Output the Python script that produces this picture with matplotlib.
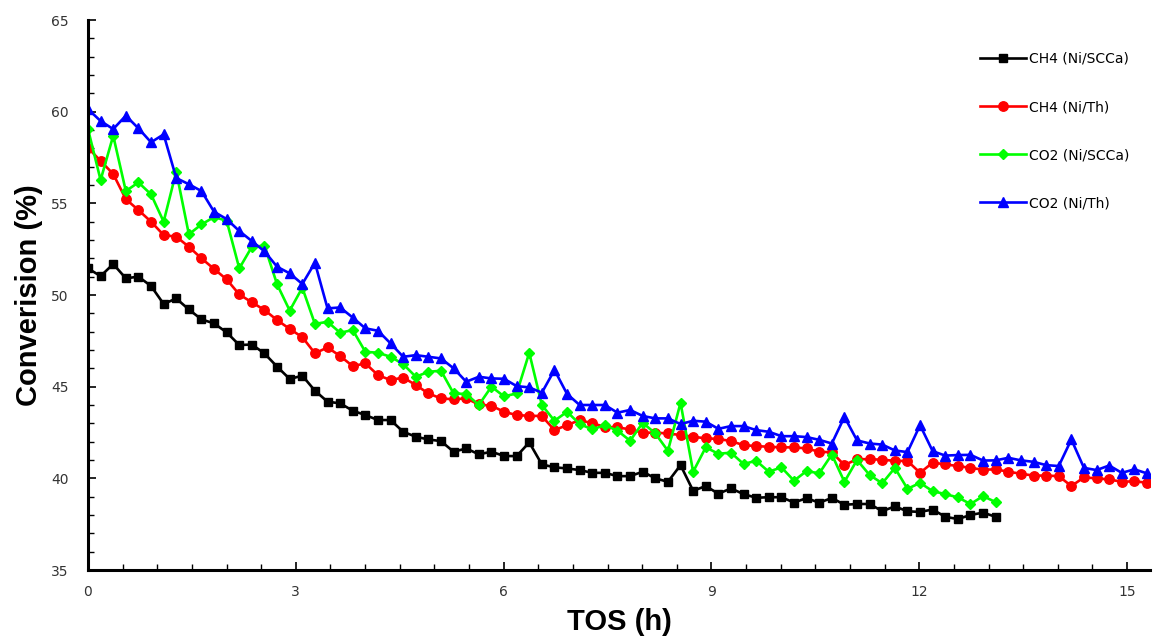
import matplotlib
matplotlib.use("Agg")
import matplotlib.pyplot as plt
from matplotlib.ticker import MultipleLocator

# ---- data ----
dt_h = 0.182
tos_long = [round(i * dt_h, 3) for i in range(85)]
tos_short = tos_long[:73]

ch4_scca = [51.45, 51.03, 51.69, 50.91, 51.0, 50.49, 49.51, 49.81, 49.21, 48.67,
            48.45, 47.96, 47.27, 47.3, 46.81, 46.09, 45.42, 45.6, 44.78, 44.18,
            44.09, 43.69, 43.45, 43.18, 43.18, 42.54, 42.27, 42.12, 42.03, 41.45,
            41.63, 41.31, 41.45, 41.22, 41.21, 41.96, 40.76, 40.6, 40.54, 40.45,
            40.3, 40.3, 40.12, 40.12, 40.36, 40.0, 39.81, 40.72, 39.32, 39.58,
            39.16, 39.45, 39.14, 38.94, 38.97, 38.97, 38.68, 38.92, 38.67, 38.93,
            38.56, 38.6, 38.6, 38.21, 38.47, 38.2, 38.17, 38.3, 37.9, 37.78,
            38.0, 38.13, 37.9]

ch4_th = [58.03, 57.31, 56.6, 55.23, 54.63, 54.0, 53.27, 53.18, 52.63, 52.0,
          51.42, 50.85, 50.03, 49.6, 49.18, 48.63, 48.15, 47.7, 46.82, 47.14,
          46.67, 46.12, 46.27, 45.63, 45.36, 45.5, 45.09, 44.63, 44.36, 44.31,
          44.36, 44.03, 43.96, 43.63, 43.45, 43.41, 43.4, 42.63, 42.9, 43.18,
          43.0, 42.81, 42.78, 42.67, 42.49, 42.49, 42.45, 42.36, 42.27, 42.18,
          42.15, 42.03, 41.81, 41.76, 41.72, 41.69, 41.69, 41.63, 41.45, 41.42,
          40.72, 41.05, 41.04, 41.02, 40.95, 40.95, 40.3, 40.86, 40.76, 40.67,
          40.57, 40.47, 40.49, 40.36, 40.25, 40.15, 40.15, 40.12, 39.58, 40.05,
          40.0, 39.94, 39.81, 39.84, 39.76]

co2_scca = [59.05, 56.27, 58.69, 55.67, 56.14, 55.49, 54.0, 56.73, 53.31, 53.85,
            54.25, 54.05, 51.45, 52.63, 52.69, 50.58, 49.15, 50.4, 48.42, 48.54,
            47.94, 48.09, 46.9, 46.85, 46.63, 46.23, 45.54, 45.81, 45.87, 44.63,
            44.6, 44.0, 45.0, 44.47, 44.63, 46.85, 44.0, 43.14, 43.63, 42.96,
            42.67, 42.9, 42.6, 42.05, 43.03, 42.45, 41.5, 44.12, 40.36, 41.69,
            41.34, 41.4, 40.78, 40.96, 40.36, 40.6, 39.87, 40.4, 40.27, 41.3,
            39.81, 41.0, 40.18, 39.73, 40.57, 39.43, 39.75, 39.3, 39.14, 38.96,
            38.6, 39.03, 38.7]

co2_th = [60.14, 59.49, 59.05, 59.78, 59.09, 58.33, 58.76, 56.38, 56.04, 55.67,
          54.54, 54.14, 53.49, 52.94, 52.38, 51.54, 51.18, 50.6, 51.76, 49.27,
          49.32, 48.77, 48.18, 48.05, 47.36, 46.63, 46.72, 46.63, 46.54, 46.0,
          45.27, 45.54, 45.45, 45.43, 45.03, 44.96, 44.67, 45.91, 44.6, 44.0,
          44.0, 44.0, 43.58, 43.73, 43.4, 43.27, 43.27, 42.96, 43.14, 43.09,
          42.7, 42.85, 42.85, 42.63, 42.54, 42.3, 42.3, 42.25, 42.1, 41.9,
          43.35, 42.07, 41.9, 41.84, 41.52, 41.43, 42.9, 41.48, 41.24, 41.27,
          41.28, 40.97, 40.98, 41.12, 40.98, 40.9, 40.72, 40.67, 42.12, 40.57,
          40.45, 40.7, 40.3, 40.49, 40.27]

labels = ["CH4 (Ni/SCCa)", "CH4 (Ni/Th)", "CO2 (Ni/SCCa)", "CO2 (Ni/Th)"]
x_ticks = [0, 3, 6, 9, 12, 15]
y_ticks = [35, 40, 45, 50, 55, 60, 65]

# ---- figure ----
W, H = 1153, 641
fig = plt.figure(figsize=(W / 100, H / 100), dpi=100)
ax = fig.add_axes([88 / W, 1 - 570 / H, (1150 - 88) / W, (570 - 20) / H])

lw = 1.9
ax.plot(tos_short, ch4_scca, color="#000000", marker="s", markersize=6.3, lw=lw, label=labels[0])
ax.plot(tos_long, ch4_th, color="#ff0000", marker="o", markersize=6.8, lw=lw, label=labels[1])
ax.plot(tos_short, co2_scca, color="#00ff00", marker="D", markersize=4.6, lw=lw, label=labels[2])
ax.plot(tos_long, co2_th, color="#0000ff", marker="^", markersize=7.2, lw=lw, label=labels[3])

ax.set_xlim(0, (1150 - 88) / 69.27)
ax.set_ylim(35, 65)
ax.set_xticks(x_ticks)
ax.set_yticks(y_ticks)
ax.xaxis.set_minor_locator(MultipleLocator(0.5))
ax.yaxis.set_minor_locator(MultipleLocator(1))

for s in ["top", "right"]:
    ax.spines[s].set_visible(False)
for s in ["left", "bottom"]:
    ax.spines[s].set_linewidth(2.2)
    ax.spines[s].set_color("black")

ax.tick_params(which="major", direction="in", length=6, width=1.2, labelsize=10,
               labelcolor="#333333", pad=11)
ax.tick_params(which="minor", direction="in", length=4, width=1.0)
ax.tick_params(axis="y", pad=14)

ax.set_xlabel("TOS (h)", fontsize=21, fontweight="bold", family="Liberation Sans", labelpad=6)
ax.set_ylabel("Converision (%)", fontsize=21, fontweight="bold", family="Liberation Sans", labelpad=6)

leg = ax.legend(loc="upper left", bbox_to_anchor=(980 / W, 1 - 52 / H),
                bbox_transform=fig.transFigure, frameon=False, fontsize=10,
                labelspacing=2.45, handlelength=3.3, handletextpad=0.25,
                borderpad=0, borderaxespad=0)

fig.savefig("out.png", dpi=100)
